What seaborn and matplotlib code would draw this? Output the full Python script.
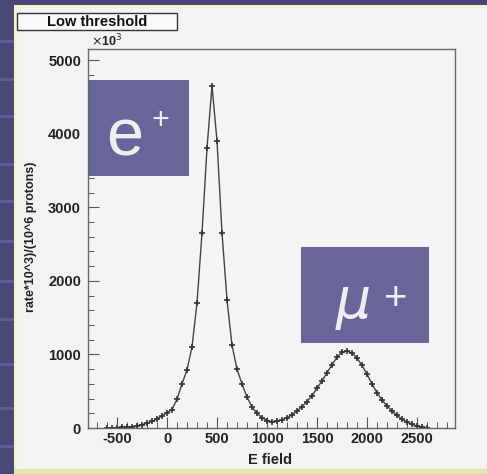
import numpy as np
import pandas as pd
import matplotlib
matplotlib.use("Agg")
import matplotlib.pyplot as plt
from matplotlib.patches import Rectangle
from matplotlib.ticker import MultipleLocator
import seaborn as sns

# ---- data ----
e_field = [-600, -550, -500, -450, -400, -350, -300, -250, -200, -150, -100, -50,
           0, 50, 100, 150, 200, 250, 300, 350, 400, 450, 500, 550, 600, 650,
           700, 750, 800, 850, 900, 950, 1000, 1050, 1100, 1150, 1200, 1250,
           1300, 1350, 1400, 1450, 1500, 1550, 1600, 1650, 1700, 1750, 1800,
           1850, 1900, 1950, 2000, 2050, 2100, 2150, 2200, 2250, 2300, 2350,
           2400, 2450, 2500, 2550, 2600]
rate = [0, 2, 5, 10, 15, 20, 30, 45, 65, 90, 125, 165,
        210, 250, 390, 600, 790, 1100, 1700, 2650, 3800, 4650, 3900, 2650, 1740, 1125,
        800, 600, 420, 285, 200, 140, 100, 85, 90, 110, 140, 180,
        230, 290, 360, 440, 540, 640, 750, 860, 960, 1030, 1045,
        1020, 950, 850, 730, 600, 480, 380, 300, 230, 170, 120,
        80, 50, 25, 10, 0]
x_ticks = [-500, 0, 500, 1000, 1500, 2000, 2500]
y_ticks = [0, 1000, 2000, 3000, 4000, 5000]
title_text = "Low threshold"
x_label = "E field"
y_label = "rate*10^3)/(10^6 protons)"

df = pd.DataFrame({"E field": e_field, "rate": rate})

sns.set_style("ticks")
plt.rcParams["axes.unicode_minus"] = False

W, H = 487, 474
fig = plt.figure(figsize=(W / 100, H / 100), dpi=100)
fig.patch.set_facecolor("#f3f3f3")

def frect(x0, y0, w, h, **kw):
    # pixel coords, y from top
    fig.patches.append(Rectangle((x0 / W, 1 - (y0 + h) / H), w / W, h / H,
                                 transform=fig.transFigure, **kw))

def ftext(x, y, s, **kw):
    return fig.text(x / W, 1 - y / H, s, **kw)

# slide background pieces
frect(0, 0, 14, H, facecolor="#4a4779", edgecolor="none", zorder=0)
frect(0, 0, W, 5, facecolor="#4a4779", edgecolor="none", zorder=0)
for yy in [40, 78, 115, 163, 200, 240, 280, 318, 363, 407, 445]:
    frect(0, yy, 14, 3, facecolor="#5f5c92", edgecolor="none", zorder=0)
frect(14, 5, 3, H - 5, facecolor="#f7f3c8", edgecolor="none", zorder=0)
frect(14, 5, W - 14, 3, facecolor="#f7f3c8", edgecolor="none", zorder=0)
frect(14, 469, W - 14, 5, facecolor="#e4e8a6", edgecolor="none", zorder=0)

ax = fig.add_axes([88 / W, 1 - 428 / H, (455 - 88) / W, (428 - 49) / H])
ax.set_facecolor("#f4f4f4")

sns.lineplot(data=df, x="E field", y="rate", ax=ax, color="#444444",
             linewidth=1.0, marker="+", markersize=4.5, markeredgewidth=1.2,
             markeredgecolor="#333333")

ax.set_xlim(-790, 2880)
ax.set_ylim(0, 5150)
ax.set_xticks(x_ticks)
ax.set_yticks(y_ticks)
ax.xaxis.set_minor_locator(MultipleLocator(100))
ax.yaxis.set_minor_locator(MultipleLocator(200))
ax.tick_params(axis="both", which="major", direction="in", length=8,
               width=0.8, color="#555555", labelsize=10.5)
ax.tick_params(axis="y", which="major", pad=5)
ax.tick_params(axis="x", which="major", pad=3)
ax.tick_params(axis="both", which="minor", direction="in", length=4,
               width=0.7, color="#555555")
for lab in ax.get_xticklabels() + ax.get_yticklabels():
    lab.set_fontfamily("Liberation Sans")
    lab.set_fontweight("bold")
    lab.set_color("#222222")
for s in ax.spines.values():
    s.set_visible(True)
    s.set_color("#666666")
    s.set_linewidth(1.0)

ax.set_xlabel("")
ax.set_ylabel("")
ftext(270, 460, x_label, ha="center", va="center",
      fontsize=10.5, fontweight="bold", family="Liberation Sans", color="#222222")
ftext(31, 237, y_label, ha="center", va="center", rotation=90,
      fontsize=9, fontweight="bold", family="Liberation Sans", color="#222222")
ftext(91, 41, r"$\times$10$^{3}$", ha="left", va="center",
      fontsize=9, fontweight="bold", family="Liberation Sans", color="#222222")

# title box
frect(17, 13, 160, 17, facecolor="#fafafa", edgecolor="#333333", linewidth=1.0, zorder=3)
ftext(97, 22, title_text, ha="center", va="center",
      fontsize=10.5, fontweight="bold", family="Liberation Sans",
      color="#111111", zorder=4)

# overlay label boxes
frect(89, 80, 100, 96, facecolor="#67659a", edgecolor="none", zorder=5)
ftext(125, 156, "e", ha="center", va="baseline", fontsize=48,
      color="#eeeeee", family="Liberation Sans", zorder=6)
ftext(160, 129, "+", ha="center", va="baseline", fontsize=22,
      color="#eeeeee", family="Liberation Sans", zorder=6)
frect(301, 247, 128, 96, facecolor="#67659a", edgecolor="none", zorder=5)
ftext(353, 318, r"$\mu$", ha="center", va="baseline", fontsize=40,
      color="#eeeeee", zorder=6)
ftext(396, 310, "+", ha="center", va="baseline", fontsize=29,
      color="#eeeeee", family="Liberation Sans", zorder=6)

fig.savefig("out.png", dpi=100, facecolor=fig.get_facecolor())
